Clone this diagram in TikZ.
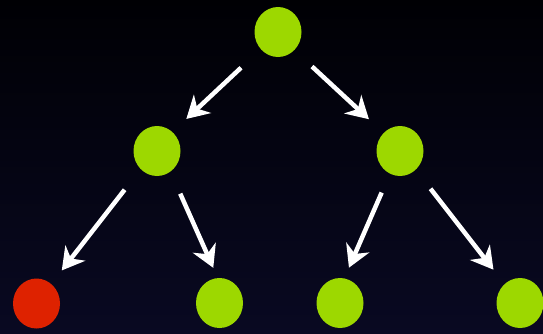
\documentclass[tikz,border=0pt]{standalone}
\usetikzlibrary{arrows.meta,shapes.geometric}
\definecolor{leafgreen}{RGB}{157,216,0}
\definecolor{leafred}{RGB}{222,34,0}
\definecolor{bgtop}{RGB}{0,0,4}
\definecolor{bgbot}{RGB}{9,9,34}
\begin{document}
\begin{tikzpicture}[x=1pt,y=-1pt,
  dot/.style={ellipse,minimum width=47pt,minimum height=50pt,inner sep=0pt,fill=leafgreen},
  reddot/.style={dot,fill=leafred},
  arr/.style={draw=white,line width=4.5pt,-{Stealth[length=22pt,width=25pt,inset=7pt]}}]
\shade[top color=bgtop,bottom color=bgbot] (0,0) rectangle (543,333);
\useasboundingbox (0,0) rectangle (543,333);
\node[dot] (root) at (278,32) {};
\node[dot] (l) at (157,151) {};
\node[dot] (r) at (400,151) {};
\node[reddot] (ll) at (36.5,303.5) {};
\node[dot] (lr) at (219.5,303) {};
\node[dot] (rl) at (340,303) {};
\node[dot] (rr) at (520,303) {};
\draw[arr,shorten <=27pt,shorten >=19pt] (root.-135.8) -- (l.51.5);
\draw[arr,shorten <=24pt,shorten >=20pt] (root.-48.4) -- (r.132.3);
\draw[arr,shorten <=26pt,shorten >=17pt] (l.-132.6) -- (ll.53.8);
\draw[arr,shorten <=24pt,shorten >=11pt] (l.-57.6) -- (lr.94);
\draw[arr,shorten <=20.5pt,shorten >=11.5pt] (r.-114.9) -- (rl.80.5);
\draw[arr,shorten <=24pt,shorten >=18pt] (r.-50) -- (rr.129.3);
\end{tikzpicture}
\end{document}
